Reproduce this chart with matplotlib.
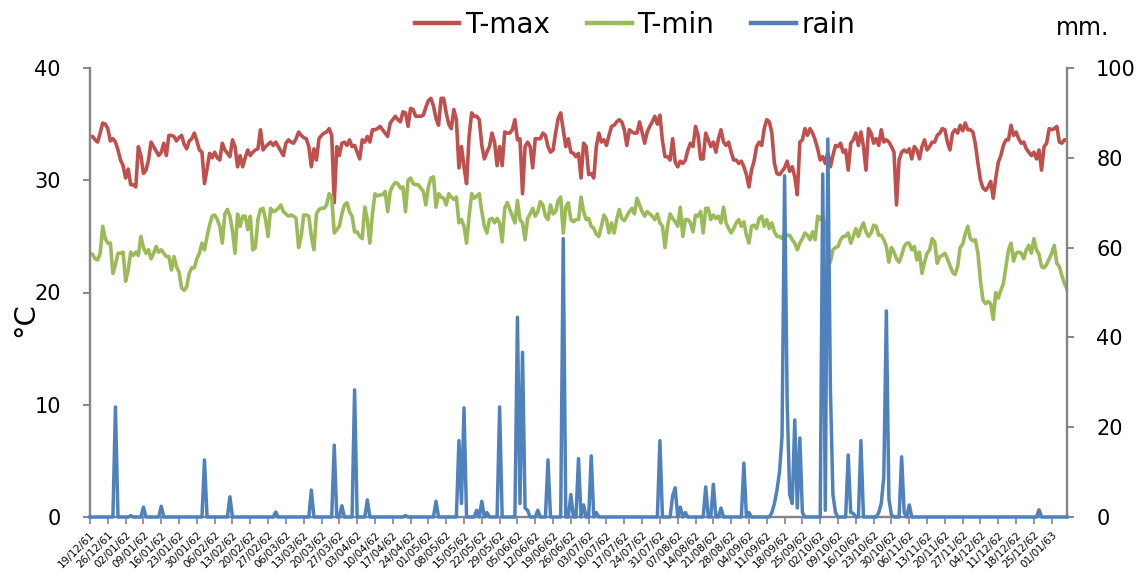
import numpy as np
import matplotlib
matplotlib.use("Agg")
import matplotlib.pyplot as plt
from matplotlib.lines import Line2D

plt.rcParams['font.family'] = ['DejaVu Sans']

# Weekly date labels (Thai Buddhist-era 2-digit years)
week_labels = [
    "19/12/61", "26/12/61", "02/01/62", "09/01/62", "16/01/62", "23/01/62", "30/01/62",
    "06/02/62", "13/02/62", "20/02/62", "27/02/62", "06/03/62", "13/03/62", "20/03/62",
    "27/03/62", "03/04/62", "10/04/62", "17/04/62", "24/04/62", "01/05/62", "08/05/62",
    "15/05/62", "22/05/62", "29/05/62", "05/06/62", "12/06/62", "19/06/62", "26/06/62",
    "03/07/62", "10/07/62", "17/07/62", "24/07/62", "31/07/62", "07/08/62", "14/08/62",
    "21/08/62", "28/08/62", "04/09/62", "11/09/62", "18/09/62", "25/09/62", "02/10/62",
    "09/10/62", "16/10/62", "23/10/62", "30/10/62", "06/11/62", "13/11/62", "20/11/62",
    "27/11/62", "04/12/62", "11/12/62", "18/12/62", "25/12/62", "01/01/63",
]

# Daily maximum temperature (deg C), starting 19/12/61
t_max = [
    33.9, 33.9, 33.6, 33.4, 34.2, 35.1, 35.0, 34.6, 33.5, 33.7,
    33.4, 32.7, 31.8, 31.3, 30.2, 31.0, 29.6, 29.6, 29.4, 33.0,
    32.2, 30.6, 30.9, 31.8, 33.4, 33.0, 32.6, 32.2, 32.5, 33.3,
    32.2, 34.0, 34.0, 33.9, 33.5, 33.8, 34.0, 33.2, 32.8, 33.5,
    33.7, 34.2, 33.5, 32.7, 32.5, 29.7, 31.0, 32.4, 32.0, 32.5,
    32.0, 31.8, 33.3, 32.7, 32.4, 32.1, 33.6, 33.0, 31.2, 32.2,
    31.2, 32.0, 32.7, 32.2, 32.5, 32.7, 32.8, 34.5, 32.7, 33.0,
    33.2, 33.4, 33.1, 33.4, 33.0, 32.6, 32.2, 33.3, 33.6, 33.4,
    33.3, 33.7, 34.3, 34.0, 33.8, 33.7, 33.0, 31.2, 32.8, 31.8,
    33.7, 34.0, 34.2, 34.3, 34.6, 34.0, 28.0, 33.0, 32.2, 33.3,
    33.4, 33.1, 33.6, 33.0, 33.1, 32.5, 31.9, 33.6, 33.4, 33.9,
    33.4, 34.5, 34.5, 34.6, 34.8, 34.5, 34.2, 33.9, 35.1, 35.4,
    35.7, 35.4, 35.2, 36.1, 36.0, 34.8, 36.4, 36.3, 35.7, 35.7,
    35.7, 35.8, 36.5, 37.1, 37.3, 36.6, 35.5, 34.9, 37.3, 37.3,
    36.0, 35.0, 34.6, 36.3, 35.4, 31.1, 33.0, 31.2, 29.7, 33.9,
    36.0, 35.7, 35.7, 35.4, 33.1, 31.9, 32.5, 33.0, 34.2, 33.4,
    31.3, 33.0, 31.3, 34.3, 34.2, 34.2, 34.5, 35.4, 33.6, 33.7,
    28.8, 33.0, 33.4, 33.0, 31.1, 33.7, 33.7, 33.7, 34.2, 34.0,
    33.0, 32.5, 32.7, 34.2, 35.5, 36.0, 34.5, 33.0, 33.7, 32.5,
    32.4, 32.1, 32.4, 30.2, 33.3, 33.0, 30.5, 30.6, 30.2, 33.0,
    34.2, 33.4, 33.6, 33.1, 34.0, 34.8, 34.9, 35.2, 35.4, 35.2,
    34.5, 33.1, 34.5, 34.3, 34.2, 34.2, 35.2, 34.3, 33.3, 34.3,
    34.8, 35.2, 35.7, 35.0, 35.8, 33.5, 32.1, 32.1, 31.8, 33.7,
    31.6, 31.2, 31.7, 31.5, 31.8, 32.7, 33.3, 33.0, 34.8, 34.0,
    31.9, 31.9, 34.2, 33.6, 33.0, 33.4, 32.5, 33.7, 34.5, 33.4,
    33.1, 33.4, 32.5, 31.8, 31.8, 31.5, 31.7, 31.2, 30.5, 29.4,
    30.9, 31.7, 33.0, 33.4, 33.1, 34.6, 35.4, 35.2, 34.2, 31.5,
    30.6, 30.5, 30.8, 31.1, 31.7, 30.8, 31.2, 30.3, 28.7, 33.4,
    33.6, 34.6, 34.0, 34.6, 34.2, 33.6, 32.8, 31.8, 32.1, 31.5,
    32.5, 31.2, 32.2, 33.1, 33.0, 33.3, 32.5, 32.7, 30.9, 33.3,
    33.6, 34.2, 33.1, 34.3, 33.0, 30.9, 34.6, 34.2, 33.3, 33.7,
    33.1, 34.5, 33.4, 33.6, 33.4, 33.0, 32.5, 27.8, 31.8, 32.5,
    32.7, 32.5, 32.8, 31.9, 33.0, 32.7, 31.9, 33.0, 33.6, 32.7,
    33.0, 33.4, 33.4, 34.0, 34.2, 34.6, 34.5, 33.4, 32.7, 34.2,
    34.5, 34.2, 34.9, 34.4, 35.1, 34.5, 34.5, 34.3, 33.2, 31.5,
    30.0, 29.3, 29.1, 29.4, 29.9, 28.4, 30.2, 31.6, 32.2, 33.1,
    33.6, 33.6, 34.9, 34.0, 34.3, 33.7, 33.3, 33.4, 32.8, 32.5,
    32.2, 32.5, 31.9, 32.7, 30.9, 33.0, 33.3, 34.6, 34.5, 34.6,
    34.8, 33.4, 33.3, 33.6, 33.6,
]

# Daily minimum temperature (deg C)
t_min = [
    23.5, 23.4, 23.0, 22.9, 23.5, 25.9, 24.8, 24.4, 24.4, 21.7,
    22.5, 23.5, 23.5, 23.6, 21.0, 22.0, 23.6, 23.3, 23.6, 23.3,
    25.0, 24.0, 23.5, 23.8, 23.0, 23.5, 24.1, 23.6, 23.8, 23.5,
    23.2, 23.2, 22.0, 23.2, 22.3, 21.8, 20.4, 20.2, 20.5, 21.7,
    22.2, 22.2, 23.0, 23.5, 24.4, 23.8, 25.0, 26.0, 26.8, 26.9,
    26.5, 25.9, 24.4, 27.0, 27.4, 26.8, 25.5, 23.5, 27.0, 25.9,
    26.8, 26.8, 25.6, 26.8, 23.8, 24.0, 26.5, 27.4, 27.5, 26.5,
    25.0, 27.5, 27.2, 27.3, 27.5, 27.8, 27.2, 27.0, 26.8, 26.9,
    26.8, 26.6, 24.0, 25.0, 26.9, 26.9, 26.8, 25.0, 23.8, 27.0,
    27.4, 27.5, 27.5, 27.8, 28.8, 28.5, 25.3, 25.6, 25.9, 27.0,
    27.8, 28.0, 27.2, 26.8, 25.4, 25.4, 25.0, 24.8, 27.6, 26.5,
    24.4, 27.0, 28.8, 28.6, 28.7, 28.7, 29.0, 27.2, 29.0, 29.5,
    29.8, 29.7, 29.3, 29.4, 27.2, 30.0, 30.2, 29.7, 29.6, 29.6,
    29.3, 29.0, 27.8, 29.4, 30.2, 30.3, 27.6, 28.8, 28.5, 28.4,
    27.8, 28.8, 28.5, 28.3, 28.5, 26.2, 26.5, 25.9, 24.4, 26.8,
    28.8, 28.4, 28.6, 28.8, 27.2, 25.9, 25.3, 26.5, 26.6, 26.2,
    26.6, 26.2, 24.5, 27.5, 28.0, 27.4, 26.8, 26.2, 28.2, 26.5,
    26.2, 24.7, 26.6, 27.0, 27.5, 26.8, 27.2, 28.1, 27.8, 26.8,
    26.5, 27.8, 27.0, 27.2, 28.2, 28.5, 25.3, 27.6, 28.0, 26.5,
    26.3, 26.5, 26.5, 28.5, 27.2, 26.5, 26.6, 25.9, 25.7, 25.2,
    25.0, 25.9, 26.9, 26.5, 25.3, 26.2, 25.3, 26.5, 27.4, 26.6,
    26.4, 26.8, 27.2, 27.5, 27.0, 28.4, 27.8, 27.2, 26.8, 27.2,
    27.0, 26.8, 26.5, 27.0, 26.2, 25.9, 24.0, 25.9, 27.0, 26.6,
    26.3, 25.9, 27.6, 25.0, 26.5, 26.5, 26.2, 25.4, 26.9, 26.8,
    27.2, 25.3, 27.5, 27.5, 26.5, 26.9, 26.6, 26.8, 26.2, 27.6,
    26.2, 25.7, 25.3, 25.7, 26.2, 26.5, 25.9, 26.3, 25.1, 24.4,
    25.9, 26.0, 25.7, 26.6, 26.8, 25.9, 26.5, 25.7, 26.2, 25.4,
    25.0, 25.0, 24.8, 25.3, 25.1, 25.1, 24.7, 24.4, 23.8, 24.4,
    24.8, 25.3, 25.1, 24.7, 25.4, 24.7, 26.8, 26.5, 26.9, 25.9,
    24.0, 22.7, 23.8, 24.0, 24.1, 24.7, 25.0, 25.0, 25.3, 24.4,
    25.0, 25.7, 25.0, 25.7, 26.2, 25.4, 25.0, 25.3, 26.0, 25.9,
    25.1, 25.1, 24.7, 24.1, 22.7, 24.0, 23.6, 23.0, 22.7, 23.3,
    24.1, 24.4, 24.4, 23.8, 24.1, 22.9, 23.6, 21.7, 22.7, 23.5,
    23.8, 24.8, 24.5, 22.6, 23.2, 23.3, 23.5, 23.0, 22.4, 21.8,
    21.6, 22.3, 24.0, 24.3, 25.2, 25.9, 24.8, 24.6, 24.7, 23.5,
    21.0, 19.3, 19.0, 19.2, 19.0, 17.6, 20.0, 19.5, 20.2, 20.8,
    22.3, 23.8, 24.4, 22.8, 23.5, 23.6, 23.5, 23.0, 23.8, 24.2,
    23.5, 24.8, 23.8, 23.4, 22.3, 22.2, 22.5, 23.0, 23.5, 24.2,
    22.6, 22.3, 21.5, 20.8, 20.3,
]

# Rainfall (mm): days with rain (day index from 19/12/61) and amounts; all other days are dry
rain_days = [
    10, 16, 21, 28, 45, 55, 73, 87, 96, 99, 104, 109, 124, 136,
    145, 146, 147, 152, 154, 156, 161, 168, 169, 170, 171, 172, 176, 180,
    186, 189, 192, 194, 197, 199, 224, 229, 230, 232, 234, 242, 245, 248,
    257, 259, 268, 269, 270, 271, 272, 273, 274, 275, 276, 277, 278, 279, 280,
    288, 289, 290, 291, 292, 293, 298, 299, 300, 303, 310, 311, 312, 313,
    314, 315, 319, 320, 322, 373,
]
rain_mm = [
    24.5, 0.3, 2.2, 2.4, 12.7, 4.5, 1.1, 6.0, 16.0, 2.5, 28.3, 3.8, 0.3, 3.5,
    17.0, 3.0, 24.3, 1.5, 3.5, 1.0, 24.5, 44.5, 3.0, 36.7, 2.0, 1.5, 1.5, 12.7,
    62.0, 5.0, 13.0, 2.7, 13.6, 1.0, 17.0, 4.7, 6.5, 2.2, 1.0, 6.7, 7.3, 2.0,
    12.0, 1.0, 1.0, 3.0, 6.0, 10.0, 18.0, 76.0, 26.0, 5.0, 3.0, 21.6, 2.0, 17.6, 1.0,
    76.4, 1.5, 84.2, 28.7, 5.0, 1.0, 13.8, 1.0, 0.8, 17.0, 1.0, 3.0, 9.0, 45.9,
    4.0, 0.5, 13.4, 1.0, 2.7, 1.6,
]

n_days = len(t_max)
day = np.arange(n_days)
rain = np.zeros(n_days)
rain[rain_days] = rain_mm

RED = "#C0504D"
GREEN = "#9BBB59"
BLUE = "#4F81BD"
AXIS = "#868686"

fig = plt.figure(figsize=(11.47, 5.73), dpi=100)
ax = fig.add_axes([90 / 1147, 1 - 517 / 573, (1067 - 90) / 1147, (517 - 68) / 573])
ax2 = ax.twinx()

ax.plot(day, t_max, color=RED, lw=2.6, solid_joinstyle="round")
ax.plot(day, t_min, color=GREEN, lw=2.6, solid_joinstyle="round")
ax2.plot(day, rain, color=BLUE, lw=2.5, solid_joinstyle="round", clip_on=False, zorder=5)

ax.set_xlim(0, n_days - 1)
ax.set_ylim(0, 40)
ax2.set_ylim(0, 100)
ax.set_yticks([0, 10, 20, 30, 40])
ax2.set_yticks([0, 20, 40, 60, 80, 100])

ax.set_xticks(np.arange(len(week_labels)) * 7)
ax.set_xticklabels(week_labels, rotation=45, ha="right", rotation_mode="anchor", fontsize=7.5)

for a in (ax, ax2):
    a.spines["top"].set_visible(False)
    for side in ("left", "right", "bottom"):
        a.spines[side].set_color(AXIS)
        a.spines[side].set_linewidth(1.6)

ax.tick_params(axis="y", direction="out", length=5, width=1.4, color=AXIS, labelsize=15, pad=16)
ax2.tick_params(axis="y", direction="out", length=5, width=1.4, color=AXIS, labelsize=15, pad=16)
ax.tick_params(axis="x", direction="out", length=5, width=1.2, color=AXIS, pad=4)

fig.text(25 / 1147, 1 - 320 / 573, "°C", rotation=90, ha="center", va="center", fontsize=21)
fig.text(1083 / 1147, 1 - 28 / 573, "mm.", ha="center", va="center", fontsize=17)

handles = [
    Line2D([], [], color=RED, lw=3.2),
    Line2D([], [], color=GREEN, lw=3.2),
    Line2D([], [], color=BLUE, lw=3.2),
]
fig.legend(handles, ["T-max", "T-min", "rain"], loc="center", ncol=3, frameon=False,
           bbox_to_anchor=(635 / 1147, 1 - 25 / 573), fontsize=20,
           handlelength=1.6, handletextpad=0.2, columnspacing=1.35)

fig.savefig("out.png", dpi=100)
